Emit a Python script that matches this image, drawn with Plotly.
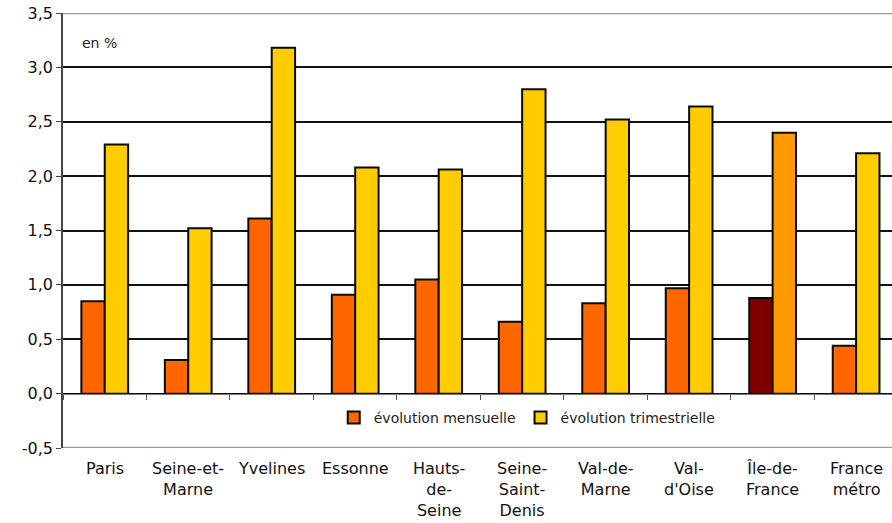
import plotly.graph_objects as go

# Départements d'Île-de-France et références
categories = ["Paris", "Seine-et-Marne", "Yvelines", "Essonne", "Hauts-de-Seine",
              "Seine-Saint-Denis", "Val-de-Marne", "Val-d'Oise", "Île-de-France",
              "France métro"]
tick_labels = ["Paris", "Seine-et-<br>Marne", "Yvelines", "Essonne", "Hauts-<br>de-<br>Seine",
               "Seine-<br>Saint-<br>Denis", "Val-de-<br>Marne", "Val-<br>d'Oise",
               "Île-de-<br>France", "France<br>métro"]

# Graduations de l'axe des valeurs
y_ticks = [-0.5, 0.0, 0.5, 1.0, 1.5, 2.0, 2.5, 3.0, 3.5]
y_tick_text = ["-0,5", "0,0", "0,5", "1,0", "1,5", "2,0", "2,5", "3,0", "3,5"]

# Évolutions en %
evol_mensuelle = [0.85, 0.31, 1.61, 0.91, 1.05, 0.66, 0.83, 0.97, 0.88, 0.44]
evol_trimestrielle = [2.29, 1.52, 3.18, 2.08, 2.06, 2.80, 2.52, 2.64, 2.40, 2.21]

# Île-de-France mise en évidence par une teinte différente
col_mens = ["#FF6600"] * len(categories)
col_trim = ["#FFCC00"] * len(categories)
col_mens[categories.index("Île-de-France")] = "#800000"
col_trim[categories.index("Île-de-France")] = "#FF9900"

FONT = "DejaVu Sans"
outline = dict(color="#0a0a0a", width=2)

fig = go.Figure()
fig.add_trace(go.Bar(name="évolution mensuelle", x=categories, y=evol_mensuelle,
                     marker=dict(color=col_mens, line=outline)))
fig.add_trace(go.Bar(name="évolution trimestrielle", x=categories, y=evol_trimestrielle,
                     marker=dict(color=col_trim, line=outline)))

ymin, ymax = y_ticks[0], y_ticks[-1]
fig.update_layout(
    width=892, height=523,
    margin=dict(l=63, r=0, t=13, b=75),
    paper_bgcolor="white", plot_bgcolor="white",
    barmode="group", bargap=0.44, bargroupgap=0.0,
    font=dict(family=FONT, color="#1a1a1a"),
    showlegend=True,
    legend=dict(orientation="h", x=0.56, xanchor="center", y=0.069, yanchor="middle",
                font=dict(size=14, family=FONT, color="#222222"),
                itemwidth=30, traceorder="normal", bgcolor="rgba(0,0,0,0)"),
    xaxis=dict(type="category", categoryorder="array", categoryarray=categories,
               range=[-0.5, 9.43], anchor="free", position=(0 - ymin) / (ymax - ymin),
               showticklabels=False, showline=True, linecolor="#777777", linewidth=1,
               ticks="outside", tickson="boundaries", ticklen=5, tickcolor="#555555",
               showgrid=False, zeroline=False),
    yaxis=dict(range=[ymin, ymax], tickmode="array", tickvals=y_ticks, ticktext=y_tick_text,
               showgrid=True, gridcolor="#111111", gridwidth=2,
               zeroline=False, showline=True, linecolor="#444444", linewidth=1.5,
               ticks="outside", ticklen=5, tickcolor="#444444",
               tickfont=dict(size=16, family=FONT, color="#111111")),
)

# Bords haut et bas du graphique en gris
for yv in (ymin, ymax):
    fig.add_shape(type="line", xref="paper", yref="y", x0=0, x1=1, y0=yv, y1=yv,
                  line=dict(color="#999999", width=2.5), layer="above")

# Libellés des catégories sous le graphique
for cat, lab in zip(categories, tick_labels):
    fig.add_annotation(x=cat, y=ymin, xref="x", yref="y", text=lab, showarrow=False,
                       yanchor="top", yshift=-9, align="center",
                       font=dict(size=16, family=FONT, color="#111111"))

fig.add_annotation(text="en %", xref="paper", yref="paper", x=0.02, y=0.93,
                   xanchor="left", yanchor="middle", showarrow=False,
                   font=dict(size=14, family=FONT, color="#222222"))

fig.write_html("out.html")
